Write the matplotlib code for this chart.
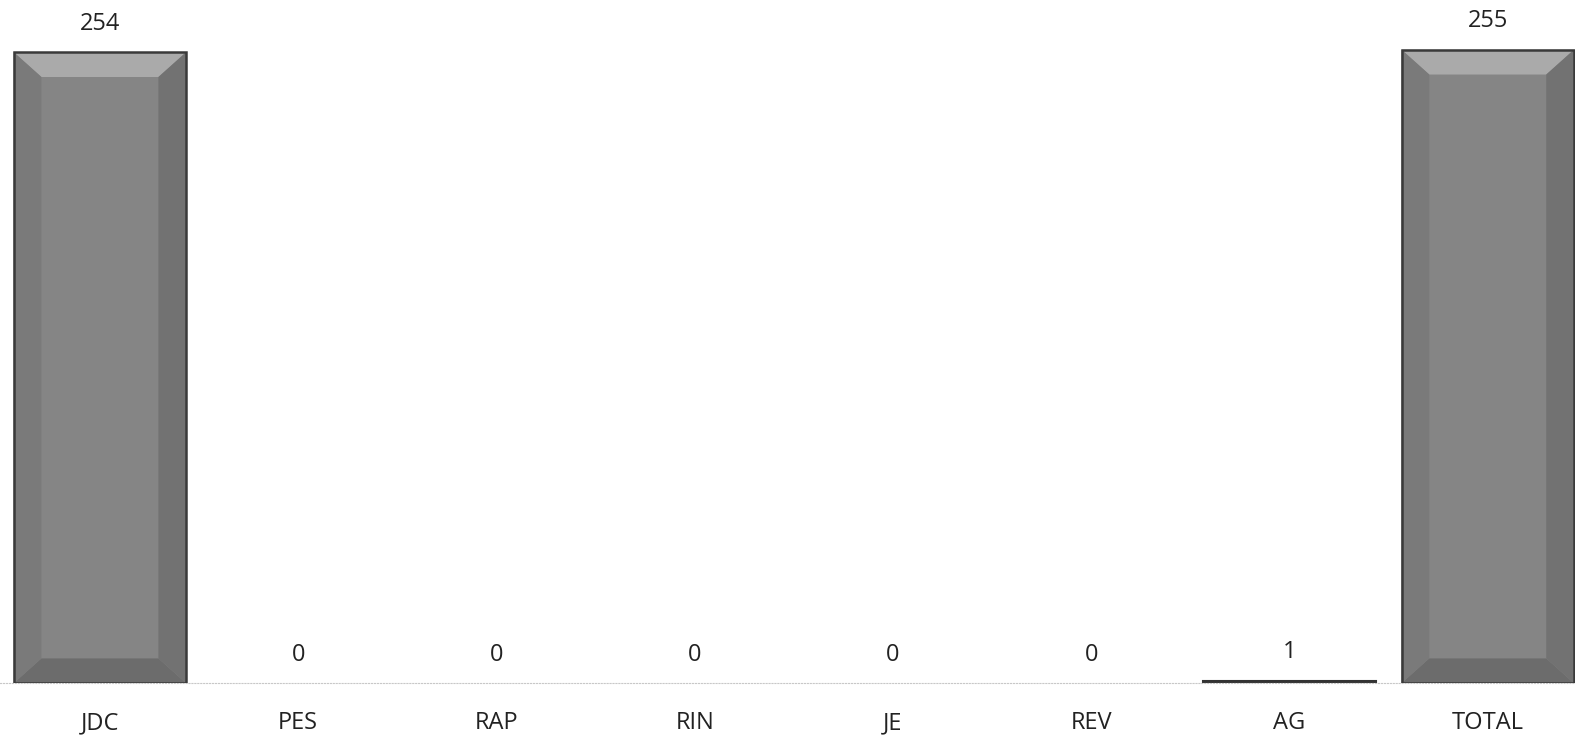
import matplotlib
matplotlib.use("Agg")
import matplotlib.pyplot as plt
from matplotlib.patches import Polygon

categories = ['JDC', 'PES', 'RAP', 'RIN', 'JE', 'REV', 'AG', 'TOTAL']
values = [254, 0, 0, 0, 0, 0, 1, 255]

plt.rcParams['font.family'] = ['Open Sans', 'DejaVu Sans']

fig = plt.figure(figsize=(15.75, 7.5), dpi=100)
ax = fig.add_axes([0, 0.089, 1, 0.911])

x = list(range(len(categories)))
w = 0.87
bars = ax.bar(x, values, width=w, color='#858585', linewidth=0, zorder=2)

# bevel look, built from each bar's own rectangle
bx, by = 0.14, 10
for b in bars:
    x0, y0 = b.get_x(), b.get_y()
    x1, y1 = x0 + b.get_width(), y0 + b.get_height()
    if b.get_height() == 0:
        continue
    if b.get_height() < 3 * by:
        b.set_color('#333333')
        b.set_linewidth(1.5)
        b.set_edgecolor('#333333')
        continue
    faces = [
        ([(x0, y1), (x1, y1), (x1 - bx, y1 - by), (x0 + bx, y1 - by)], '#aaaaaa'),
        ([(x0, y0), (x1, y0), (x1 - bx, y0 + by), (x0 + bx, y0 + by)], '#6c6c6c'),
        ([(x0, y0), (x0, y1), (x0 + bx, y1 - by), (x0 + bx, y0 + by)], '#7a7a7a'),
        ([(x1, y0), (x1, y1), (x1 - bx, y1 - by), (x1 - bx, y0 + by)], '#727272'),
    ]
    for pts, c in faces:
        ax.add_patch(Polygon(pts, closed=True, facecolor=c, edgecolor='none', zorder=3))
    ax.add_patch(Polygon([(x0, y0), (x1, y0), (x1, y1), (x0, y1)], closed=True,
                         fill=False, edgecolor='#3a3a3a', linewidth=1.8, zorder=4))

for xi, v in zip(x, values):
    ax.annotate(str(v), (xi, v), xytext=(0, 12), textcoords='offset points',
                ha='center', va='bottom', fontsize=17, color='#222222')

ax.set_xlim(-0.504, 7.44)
ax.set_ylim(0, 275)
ax.set_xticks(x)
ax.set_xticklabels(categories, fontsize=17, color='#222222')
ax.tick_params(axis='x', length=0, pad=20)
ax.set_yticks([])
for s in ['top', 'left', 'right']:
    ax.spines[s].set_visible(False)
ax.spines['bottom'].set_color('#c8c8c8')
ax.spines['bottom'].set_linestyle(':')

fig.savefig('out.png', dpi=100)
